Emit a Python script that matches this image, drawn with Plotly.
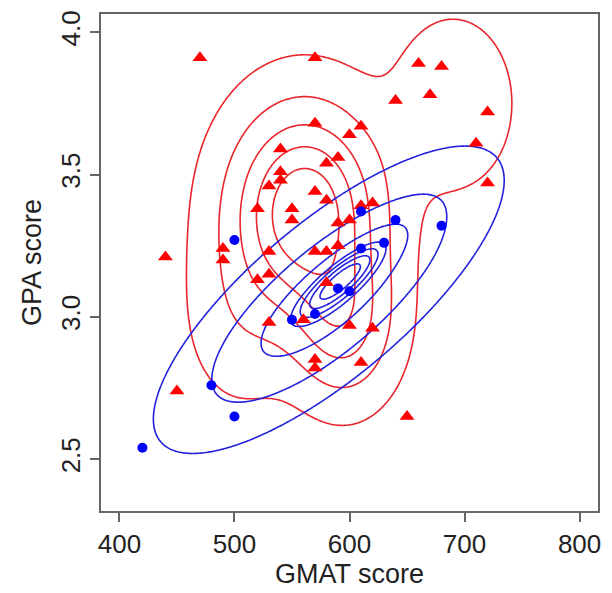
import numpy as np
import plotly.graph_objects as go

# ---- data ----
red_gmat = [470, 570, 660, 680, 670, 640, 720, 710, 720,
            570, 610, 600, 540, 590, 580, 540, 540, 530, 570, 580, 520, 550, 550, 610, 620, 590, 600,
            440, 490, 490, 530, 570, 580, 590,
            520, 530, 580,
            530, 560, 600, 620, 570, 570, 610, 450, 650]
red_gpa = [3.91, 3.91, 3.89, 3.88, 3.78, 3.76, 3.72, 3.61, 3.47,
           3.68, 3.67, 3.64, 3.59, 3.56, 3.54, 3.51, 3.48, 3.46, 3.44, 3.41, 3.38, 3.38, 3.34, 3.39, 3.40, 3.33, 3.34,
           3.21, 3.24, 3.20, 3.23, 3.23, 3.23, 3.25,
           3.13, 3.15, 3.12,
           2.98, 2.99, 2.97, 2.96, 2.85, 2.82, 2.84, 2.74, 2.65]
blue_gmat = [420, 480, 500, 500, 550, 570, 590, 600, 610, 610, 630, 640, 680]
blue_gpa = [2.54, 2.76, 2.65, 3.27, 2.99, 3.01, 3.10, 3.09, 3.24, 3.37, 3.26, 3.34, 3.32]

# mixture components (weight, mean GMAT, mean GPA, sd GMAT, sd GPA, correlation)
red_w = [0.696, 0.166, 0.082, 0.056]
red_mx = [561, 595, 690, 505]
red_my = [3.37, 2.98, 3.75, 3.00]
red_sx = [40, 28, 32, 30]
red_sy = [0.225, 0.17, 0.185, 0.20]
red_rho = [0.0, 0.0, 0.0, 0.0]
red_levels = [0.05, 0.2, 0.4, 0.6, 0.8]

blue_w = [0.833, 0.167]
blue_mx = [582, 595]
blue_my = [3.06, 3.14]
blue_sx = [61, 30]
blue_sy = [0.216, 0.105]
blue_rho = [0.776, 0.85]
blue_levels = [0.044, 0.25, 0.68, 1.15, 1.35, 1.55, 1.75]

x_ticks = [400, 500, 600, 700, 800]
y_ticks = [2.5, 3.0, 3.5, 4.0]

gx = np.linspace(380, 820, 340)
gy = np.linspace(2.25, 4.15, 340)
GX, GY = np.meshgrid(gx, gy)


def mixture(w, mx, my, sx, sy, rho):
    z = np.zeros_like(GX)
    peaks = []
    for wi, a, b, s1, s2, r in zip(w, mx, my, sx, sy, rho):
        norm = wi / (2 * np.pi * s1 * s2 * np.sqrt(1 - r * r))
        u = (GX - a) / s1
        v = (GY - b) / s2
        q = (u * u + v * v - 2 * r * u * v) / (1 - r * r)
        z += norm * np.exp(-0.5 * q)
        peaks.append(norm)
    return z / peaks[0]


z_red = mixture(red_w, red_mx, red_my, red_sx, red_sy, red_rho)
z_blue = mixture(blue_w, blue_mx, blue_my, blue_sx, blue_sy, blue_rho)

fig = go.Figure()


def add_contours(z, levels, color):
    for lv in levels:
        fig.add_trace(go.Contour(
            x=gx, y=gy, z=z, autocontour=False,
            contours=dict(start=lv, end=lv + 1e-9, size=1, coloring="none"),
            line=dict(color=color, width=1.6, smoothing=1),
            showscale=False, hoverinfo="skip", showlegend=False))


add_contours(z_red, red_levels, "#e8262b")
add_contours(z_blue, blue_levels, "#2222dd")

fig.add_trace(go.Scatter(x=red_gmat, y=red_gpa, mode="markers",
                         marker=dict(symbol="triangle-up", size=13, color="#ff0000"),
                         showlegend=False))
fig.add_trace(go.Scatter(x=blue_gmat, y=blue_gpa, mode="markers",
                         marker=dict(symbol="circle", size=10, color="#0000ff"),
                         showlegend=False))

axis_common = dict(showgrid=False, zeroline=False, showline=True, mirror=True,
                   linecolor="#666", linewidth=1.5, ticks="outside", ticklen=9,
                   tickcolor="#666", tickwidth=1.5,
                   tickfont=dict(family="Liberation Sans, Arial", size=26, color="#222"))

fig.update_layout(
    width=612, height=593,
    margin=dict(l=101, r=11, t=11, b=74),
    paper_bgcolor="white", plot_bgcolor="white",
    xaxis=dict(range=[384, 816], tickvals=x_ticks, ticktext=[str(v) for v in x_ticks],
               title=dict(text="GMAT score", font=dict(family="Liberation Sans, Arial", size=27, color="#222"),
                          standoff=4),
               **axis_common),
    yaxis=dict(range=[2.318, 4.064], tickvals=y_ticks, ticktext=["2.5", "3.0", "3.5", "4.0"],
               tickangle=-90,
               title=dict(text="GPA score", font=dict(family="Liberation Sans, Arial", size=27, color="#222"),
                          standoff=6),
               **axis_common),
)

fig.write_html("out.html")
